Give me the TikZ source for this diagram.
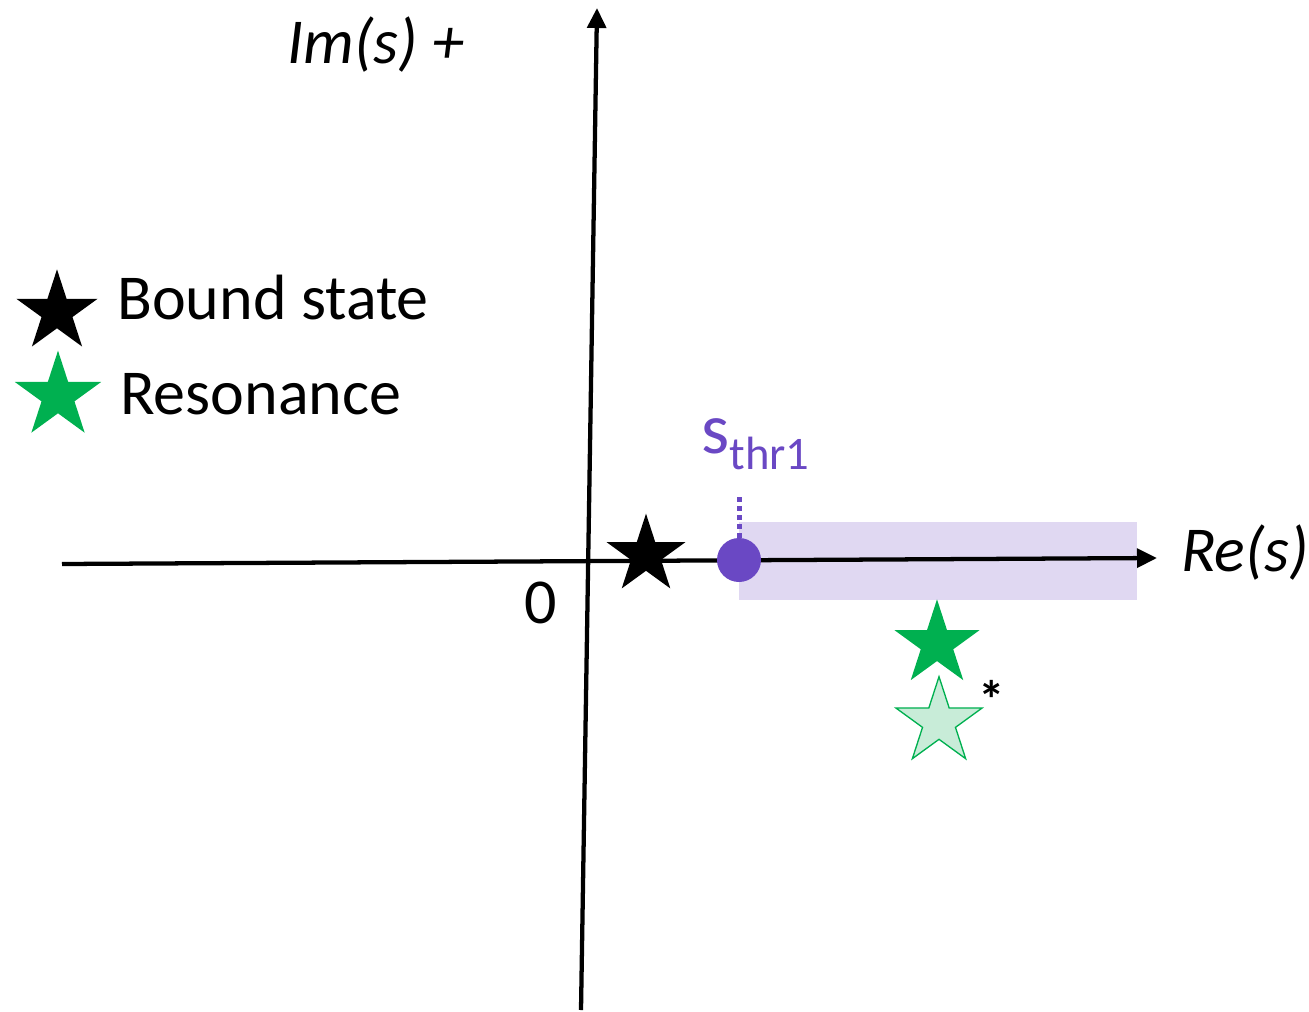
\documentclass[tikz,border=0pt]{standalone}
\usepackage{fontspec}
\setmainfont{Carlito}
\usetikzlibrary{shapes.geometric,arrows.meta}

\definecolor{resgreen}{RGB}{0,176,80}
\definecolor{lightgreen}{RGB}{200,236,216}
\definecolor{thrpurple}{RGB}{106,72,196}
\definecolor{bandpurple}{RGB}{224,216,242}

\begin{document}
\begin{tikzpicture}[x=0.75pt,y=-0.75pt,
    axis/.style={line width=3.2pt, -{Triangle[length=15pt,width=14pt]}},
    starmark/.style={star, star points=5, star point ratio=2.618, inner sep=0pt},
    bigtext/.style={font=\fontsize{48}{58}\selectfont, inner sep=0pt}
  ]

    \useasboundingbox (0,0) rectangle (1309,1012);

    % Cut region past the threshold
    \fill[bandpurple] (739,522) rectangle (1137,600);

    % Define the axes end points
    \coordinate (xl) at (62,564);
    \coordinate (xr) at (1157,558);
    \coordinate (yb) at (581,1010);
    \coordinate (yt) at (597,8);

    % Draw the axes
    \draw[axis] (xl) -- (xr);
    \draw[axis] (yb) -- (yt);

    % Axis labels
    \node[bigtext, anchor=west, font=\fontsize{48}{58}\selectfont\itshape] (im) at (287,45) {Im(s) +};
    \node[bigtext, anchor=west, font=\fontsize{48}{58}\selectfont\itshape] (re) at (1181,553) {Re(s)};
    \node[bigtext] (zero) at (541,603) {0};

    % Threshold point and its label
    \coordinate (thr) at (739,560);
    \coordinate (tick) at (739,497);
    \draw[thrpurple, line width=3.75pt, dash pattern=on 3.75pt off 3pt] (tick) -- (thr);
    \node[circle, fill=thrpurple, inner sep=0pt, minimum size=33pt] (thrdot) at (thr) {};
    \node[anchor=base west, inner sep=0pt, text=thrpurple] (sthr) at (701,453)
      {\fontsize{54}{60}\selectfont s\raisebox{-12pt}{\fontsize{35}{40}\selectfont thr1}};

    % Poles on the plane
    \node[starmark, fill=black, minimum size=62pt] (bound) at (646,555) {};
    \node[starmark, fill=resgreen, minimum size=67pt] (res) at (937,644) {};
    \node[starmark, fill=lightgreen, draw=resgreen, line width=1pt, minimum size=68pt] (resconj) at (939,722) {};
    \node[font=\fontsize{40}{46}\selectfont\bfseries, inner sep=0pt] (conj) at (992,699) {*};

    % Legend
    \node[starmark, fill=black, minimum size=64pt] (legbound) at (57,312) {};
    \node[starmark, fill=resgreen, minimum size=68pt] (legres) at (58,396) {};
    \node[bigtext, anchor=west] (boundtxt) at (117,298) {Bound state};
    \node[bigtext, anchor=west] (restxt) at (120,394) {Resonance};

\end{tikzpicture}
\end{document}
